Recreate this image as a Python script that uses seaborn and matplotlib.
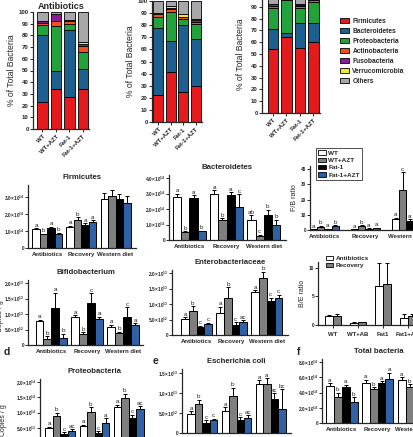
import numpy as np
import pandas as pd
import matplotlib
matplotlib.use('Agg')
import matplotlib.pyplot as plt
from matplotlib.patches import Patch
import seaborn as sns

sns.set_style("ticks")
plt.rcParams['font.family'] = ['Liberation Sans', 'DejaVu Sans']
plt.rcParams['font.weight'] = 'bold'
plt.rcParams['axes.linewidth'] = 0.9
plt.rcParams['mathtext.fontset'] = 'custom'
plt.rcParams['mathtext.rm'] = 'Liberation Sans:bold'
plt.rcParams['mathtext.default'] = 'rm'

W, H = 413, 437

# ---- stacked composition panels ----
phyla = ['Firmicutes', 'Bacteroidetes', 'Proteobacteria', 'Actinobacteria',
         'Fusobacteria', 'Verrucomicrobia', 'Others']
phyla_colors = ['#e41a1c', '#1d5f8e', '#22a23a', '#f2511f', '#8c1a9c', '#f3ec1c', '#a8a8aa']
genotypes = ['WT', 'WT+AZT', 'Fat-1', 'Fat-1+AZT']

# rows = phyla, columns = genotypes (% of total bacteria)
pct_antibiotics = [[23, 34, 27, 34],
                   [57, 16, 58, 17],
                   [9, 38, 5, 15],
                   [2, 4, 2, 5],
                   [1, 6, 0.5, 2],
                   [0.5, 0, 0.5, 1],
                   [7.5, 2, 7, 26]]
pct_recovery = [[22, 41, 25, 30],
                [56, 26, 55, 39],
                [9, 24, 5, 12],
                [2, 2, 1.5, 2],
                [0.5, 1, 0.5, 1],
                [0.5, 1.5, 2, 1.5],
                [10, 4.5, 11, 14.5]]
pct_western = [[54, 64, 55, 60],
               [17, 4, 21, 16],
               [18, 28, 13, 18],
               [2, 2, 2, 2],
               [1, 0.5, 0.5, 0.5],
               [0.5, 0.5, 1, 0.5],
               [7.5, 1, 7.5, 3]]

# ---- grouped bar panels ----
groups = ['Antibiotics', 'Recovery', 'Western diet']
geno_colors = {'WT': 'white', 'WT+AZT': '#7f7f7f', 'Fat-1': 'black', 'Fat-1+AZT': '#1d5cb8'}

firm_vals = [[1.1, 0.8, 1.2, 0.85], [1.25, 1.65, 1.35, 1.5], [2.9, 3.05, 2.85, 2.65]]
firm_errs = [[0.05, 0.05, 0.06, 0.05], [0.07, 0.15, 0.1, 0.12], [0.35, 0.35, 0.3, 0.4]]
firm_letters = [['a', 'b', 'a', 'b'], ['a', 'b', 'a', 'a'], ['', '', '', '']]

bact_vals = [[2.8, 0.5, 2.7, 0.55], [3.0, 1.3, 2.9, 2.15], [1.3, 0.25, 1.6, 1.0]]
bact_errs = [[0.2, 0.05, 0.2, 0.05], [0.2, 0.1, 0.2, 0.8], [0.3, 0.1, 0.35, 0.3]]
bact_letters = [['a', 'b', 'a', 'b'], ['a', 'b', 'a', 'c'], ['ab', 'c', 'b', 'b']]

fb_vals = [[0.5, 2.2, 0.6, 2.6], [0.5, 2.8, 0.8, 1.2], [7, 26, 6, 8]]
fb_errs = [[0.2, 0.5, 0.2, 0.6], [0.2, 0.5, 0.2, 0.4], [1.2, 12, 1, 2]]
fb_letters = [['a', 'b', 'a', 'b'], ['a', 'b', 'a', 'a'], ['a', 'c', 'a', 'ab']]

bifido_vals = [[0.77, 0.18, 1.19, 0.22], [0.9, 0.37, 1.35, 0.84], [0.58, 0.38, 0.92, 0.66]]
bifido_errs = [[0.05, 0.1, 0.5, 0.15], [0.07, 0.05, 0.33, 0.08], [0.07, 0.05, 0.3, 0.05]]
bifido_letters = [['a', 'b', 'a', 'b'], ['a', 'b', 'c', 'a'], ['a', 'b', 'c', 'a']]

entero_vals = [[0.52, 0.78, 0.25, 0.35], [0.72, 1.2, 0.32, 0.42], [1.38, 1.85, 1.1, 1.2]]
entero_errs = [[0.05, 0.15, 0.05, 0.05], [0.2, 0.35, 0.1, 0.05], [0.07, 0.2, 0.1, 0.1]]
entero_letters = [['a', 'b', 'c', 'c'], ['a', 'b', 'c', 'ac'], ['a', 'b', 'c', 'c']]

be_groups = ['WT', 'WT+AB', 'Fat1', 'Fat1+AB']
be_phases = ['Antibiotics', 'Recovery']
be_colors = {'Antibiotics': 'white', 'Recovery': '#7f7f7f'}
be_vals = [[1.5, 1.5], [0.35, 0.5], [6.8, 7.1], [1.3, 1.5]]
be_errs = [[0.3, 0.5], [0.1, 0.1], [4.0, 3.7], [0.7, 0.5]]

proteo_vals = [[0.5, 0.9, 0.3, 0.4], [0.57, 1.03, 0.33, 0.67], [1.17, 1.47, 0.83, 1.1]]
proteo_errs = [[0.03, 0.1, 0.05, 0.05], [0.03, 0.15, 0.05, 0.15], [0.08, 0.15, 0.1, 0.1]]
proteo_letters = [['a', 'b', 'c', 'ac'], ['a', 'b', 'c', 'a'], ['a', 'b', 'c', 'ac']]

ecoli_vals = [[0.47, 0.73, 0.25, 0.32], [0.55, 0.93, 0.32, 0.38], [1.22, 1.22, 0.85, 0.6]]
ecoli_errs = [[0.08, 0.1, 0.07, 0.04], [0.1, 0.2, 0.08, 0.07], [0.1, 0.15, 0.15, 0.5]]
ecoli_letters = [['a', 'b', 'c', 'c'], ['a', 'b', 'c', 'ac'], ['a', 'a', 'ac', 'bc']]

total_vals = [[4.9, 3.4, 4.7, 2.8], [5.3, 4.4, 5.3, 5.8], [5.7, 4.7, 4.2, 4.8]]
total_errs = [[0.3, 0.6, 0.3, 0.6], [0.4, 0.3, 0.2, 0.8], [0.3, 0.4, 0.3, 0.4]]
total_letters = [['a', 'b', 'a', 'b'], ['a', 'b', 'a', 'a'], ['a', 'b', 'a', 'a']]

fig = plt.figure(figsize=(W / 100, H / 100), dpi=100)


def px_axes(left, top, right, bottom):
    return fig.add_axes([left / W, 1 - bottom / H, (right - left) / W, (bottom - top) / H])


def sci(m, e):
    return '%s×10$^{%d}$' % (m, e)


def stacked(rect, pct, xlim, title):
    ax = px_axes(*rect)
    x = np.arange(len(genotypes))
    bottom = np.zeros(len(genotypes))
    for name, col, row in zip(phyla, phyla_colors, pct):
        ax.bar(x, row, bottom=bottom, width=0.78, color=col, edgecolor='black', linewidth=0.6)
        bottom += np.array(row)
    ax.set_xlim(*xlim)
    ax.set_ylim(0, 100)
    ax.set_yticks(range(0, 101, 10))
    ax.tick_params(axis='y', labelsize=4.3, length=2, width=0.7, pad=1)
    ax.set_xticks(x)
    ax.set_xticklabels(genotypes, rotation=45, ha='right', rotation_mode='anchor', fontsize=4.3)
    ax.tick_params(axis='x', length=2, width=0.7, pad=1.5)
    ax.set_ylabel('% of Total Bacteria', fontsize=6.2, fontweight='normal', labelpad=2)
    ax.set_title(title, fontsize=6.5, fontweight='bold', pad=2)
    sns.despine(ax=ax)
    return ax


def grouped(rect, vals, errs, letters, xlim, ylim, yticks, yticklabels, title,
            cats=groups, hues=genotypes, palette=geno_colors, width=0.88):
    ax = px_axes(*rect)
    rows = [(c, h, vals[i][j]) for i, c in enumerate(cats) for j, h in enumerate(hues)]
    df = pd.DataFrame(rows, columns=['group', 'hue', 'value'])
    sns.barplot(data=df, x='group', y='value', hue='hue', order=cats, hue_order=hues,
                palette=palette, errorbar=None, width=width, edgecolor='black',
                linewidth=0.7, legend=False, ax=ax)
    bar_conts = list(ax.containers)
    for j, cont in enumerate(bar_conts):
        for i, bar in enumerate(cont.patches):
            bx = bar.get_x() + bar.get_width() / 2
            by = bar.get_height()
            e = errs[i][j]
            ax.errorbar(bx, by, yerr=[[0], [e]], color='black', capsize=1.3,
                        elinewidth=0.7, capthick=0.7)
            if letters is not None and letters[i][j]:
                ax.annotate(letters[i][j], (bx, by + e), xytext=(0, 0.3),
                            textcoords='offset points', ha='center', va='bottom',
                            fontsize=4.5, fontweight='normal')
    ax.set_xlim(*xlim)
    ax.set_ylim(*ylim)
    ax.set_yticks(yticks)
    ax.set_yticklabels(yticklabels)
    ax.tick_params(axis='y', labelsize=3.4, length=2, width=0.7, pad=0.8)
    ax.tick_params(axis='x', labelsize=4.3, length=0, pad=3)
    ax.set_xlabel('')
    ax.set_ylabel('')
    ax.set_title(title, fontsize=5.6, fontweight='bold', pad=4)
    sns.despine(ax=ax)
    return ax


# top row
stacked((33, 12, 89, 129), pct_antibiotics, (-0.7, 3.45), 'Antibiotics')
stacked((152, 1, 202, 122), pct_recovery, (-0.5, 3.5), 'Recovery')
stacked((262, -5, 320, 113), pct_western, (-0.8, 3.5), 'Western diet')
fig.legend(handles=[Patch(facecolor=c, edgecolor='black', linewidth=0.6, label=n)
                    for n, c in zip(phyla, phyla_colors)],
           loc='upper left', bbox_to_anchor=(337 / W, 1 - 15 / H), frameon=False,
           fontsize=4.8, handlelength=1.4, handleheight=0.8, labelspacing=0.45,
           handletextpad=0.5, borderaxespad=0)

# middle row 1
grouped((28, 185, 136, 248), firm_vals, firm_errs, firm_letters, (-0.57, 2.6), (0, 3.7),
        [0, 1, 2, 3], ['0'] + [sci('%.1f' % v, 14) for v in (1, 2, 3)], 'Firmicutes')
grouped((169, 175, 286, 240), bact_vals, bact_errs, bact_letters, (-0.55, 2.6), (0, 4.2),
        [0, 1, 2, 3, 4], ['0'] + [sci('%.1f' % v, 14) for v in (1, 2, 3, 4)], 'Bacteroidetes')
ax_fb = grouped((310, 166, 431, 230), fb_vals, fb_errs, fb_letters, (-0.35, 2.6), (0, 42),
                [0, 10, 20, 30, 40], ['0', '10', '20', '30', '40'], '', width=0.7)
ax_fb.set_ylabel('F/B ratio', fontsize=5, fontweight='normal', labelpad=2)
fig.legend(handles=[Patch(facecolor=geno_colors[g], edgecolor='black', linewidth=0.6, label=g)
                    for g in genotypes],
           loc='upper left', bbox_to_anchor=(316 / W, 1 - 148 / H), frameon=True,
           fancybox=False, edgecolor='black', fontsize=4.6, handlelength=1.2,
           handleheight=0.7, labelspacing=0.3, handletextpad=0.4, borderpad=0.35,
           borderaxespad=0).get_frame().set_linewidth(0.6)

# middle row 2
sci13 = ['0', sci('5.0', 12), sci('1.0', 13), sci('1.5', 13), sci('2.0', 13)]
ax_bif = grouped((28, 280, 143, 345), bifido_vals, bifido_errs, bifido_letters, (-0.65, 2.55),
                 (0, 2.1), [0, 0.5, 1, 1.5, 2], sci13, 'Bifidobacterium')
ax_bif.set_ylabel('Copies / g', fontsize=5, fontweight='normal')
ax_bif.yaxis.set_label_coords(-0.21, 0.45)
grouped((172, 270, 288, 335), entero_vals, entero_errs, entero_letters, (-0.7, 2.6),
        (0, 2.1), [0, 0.5, 1, 1.5, 2], sci13, 'Enterobacteriaceae')
ax_be = grouped((318, 262, 423, 325), be_vals, be_errs, None, (-0.6, 3.6), (0, 11),
                [0, 5, 10], ['0', '5', '10'], '', cats=be_groups, hues=be_phases,
                palette=be_colors, width=0.64)
ax_be.set_ylabel('B/E ratio', fontsize=5, fontweight='normal', labelpad=2)
ax_be.tick_params(axis='x', labelsize=4.3, length=2, width=0.7)
fig.legend(handles=[Patch(facecolor=be_colors[p], edgecolor='black', linewidth=0.6, label=p)
                    for p in be_phases],
           loc='upper left', bbox_to_anchor=(323 / W, 1 - 253 / H), frameon=False,
           fontsize=4.6, handlelength=1.2, handleheight=0.7, labelspacing=0.25,
           handletextpad=0.4, borderaxespad=0)

# bottom row
sci14 = ['0', sci('5.0', 13), sci('1.0', 14), sci('1.5', 14), sci('2.0', 14)]
ax_pr = grouped((40, 379, 149, 443), proteo_vals, proteo_errs, proteo_letters, (-0.6, 2.6),
                (0, 2.1), [0, 0.5, 1, 1.5, 2], sci14, 'Proteobacteria')
ax_pr.set_ylabel('Copies / g', fontsize=5, fontweight='normal')
ax_pr.yaxis.set_label_coords(-0.3, 0.35)
grouped((182, 369, 291, 433), ecoli_vals, ecoli_errs, ecoli_letters, (-0.6, 2.6),
        (0, 1.6), [0, 0.5, 1, 1.5], ['0', sci('5.0', 12), sci('1.0', 13), sci('1.5', 13)],
        'Escherichia coli')
grouped((322, 359, 435, 423), total_vals, total_errs, total_letters, (-0.55, 2.6),
        (0, 8.4), [0, 2, 4, 6, 8], ['0'] + [sci('%.1f' % v, 14) for v in (2, 4, 6, 8)],
        'Total bacteria')

for lab, xx, yy in [('d', 4, 352), ('e', 153, 361), ('f', 297, 352)]:
    fig.text(xx / W, 1 - yy / H, lab, fontsize=7.5, fontweight='bold', va='center')

fig.savefig('out.png', dpi=100)
